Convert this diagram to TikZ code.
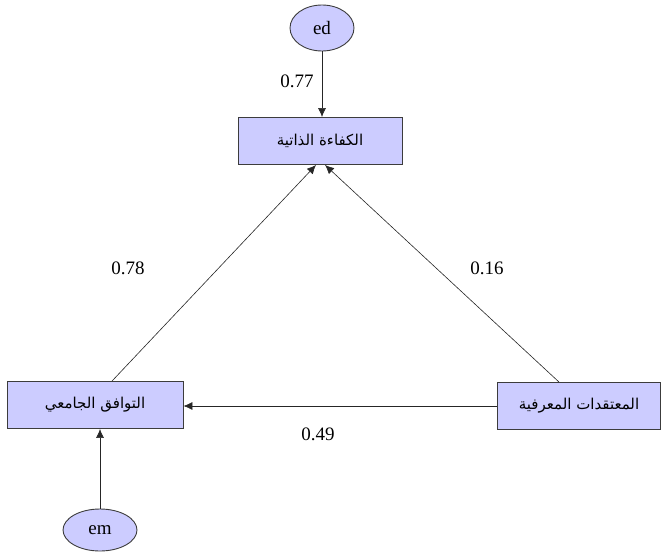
\documentclass[tikz,border=0pt]{standalone}
\usepackage{fontspec}
\setmainfont{Liberation Serif}
\newfontfamily\arabicfont[Script=Arabic]{DejaVu Sans}
\TeXXeTstate=1
\usetikzlibrary{arrows.meta,shapes.geometric}
\definecolor{boxfill}{RGB}{204,204,255}
\definecolor{boxline}{RGB}{60,60,60}
\tikzset{
  varbox/.style={draw=boxline, line width=0.9pt, fill=boxfill, minimum width=#1, minimum height=47pt, inner sep=0pt, font=\arabicfont\fontsize{15}{17}\selectfont},
  errnode/.style={ellipse, draw=boxline, line width=0.9pt, fill=boxfill, inner sep=0pt, font=\fontsize{19}{21}\selectfont},
  path/.style={draw=black!85, line width=0.6pt, -{Latex[length=9pt,width=8pt]}},
  coef/.style={font=\fontsize{19}{21}\selectfont}
}
\begin{document}
\begin{tikzpicture}[x=1pt,y=-1pt]
\useasboundingbox (0,0) rectangle (669,554);
% latent error terms
\node[errnode, minimum width=64pt, minimum height=46pt] (ed) at (322,28) {ed};
\node[errnode, minimum width=74pt, minimum height=42pt] (em) at (100,530) {em};
% observed variables
\node[varbox=164pt] (top) at (320,141) {\beginR الكفاءة الذاتية\endR};
\node[varbox=176pt] (left) at (95,405) {\beginR التوافق الجامعي\endR};
\node[varbox=163pt] (right) at (579,406) {\beginR المعتقدات المعرفية\endR};
% paths
\draw[path] (ed.south) -- (ed.south |- top.north);
\draw[path] (em.north) -- (em.north |- left.south);
\draw[path] ([xshift=17pt]left.north) -- ([xshift=-4pt]top.south);
\draw[path] ([xshift=-20pt]right.north) -- ([xshift=5pt]top.south);
\draw[path] (right.west) -- (right.west -| left.east);
% coefficients
\node[coef] (c1) at (297,81) {0.77};
\node[coef] (c2) at (128,268) {0.78};
\node[coef] (c3) at (487,268) {0.16};
\node[coef] (c4) at (318,434) {0.49};
\end{tikzpicture}
\end{document}
